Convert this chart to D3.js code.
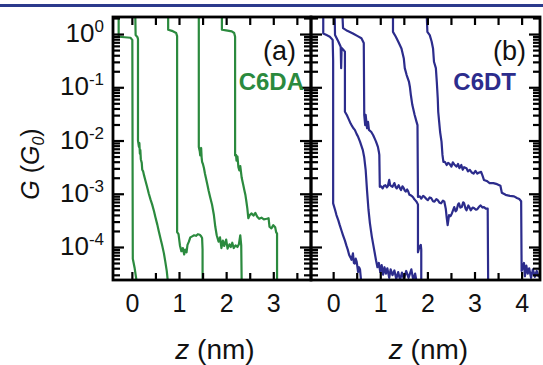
<!DOCTYPE html>
<html><head><meta charset="utf-8">
<script src="https://cdn.jsdelivr.net/npm/d3@7"></script>
<style>html,body{margin:0;padding:0;background:#fff;} svg{display:block;}</style>
</head><body>
<svg id="chart" width="543" height="365"></svg>
<script>
// ---------- data ----------
const panelLabels = ["(a)", "(b)"];
const seriesNames = ["C6DA", "C6DT"];
const xTicksA = [0, 1, 2, 3];
const xTicksB = [0, 1, 2, 3, 4];
const xMinorA = [0.5, 1.5, 2.5, 3.5];
const xMinorB = [0.5, 1.5, 2.5, 3.5];
const yTickExponents = [0, -1, -2, -3, -4];
// traces: [z (nm), log10(G/G0)]
const c6da1 = [[-0.28,0.5],[-0.28,-0.05],[-0.15,-0.06],[-0.03,-0.07],[0.01,-0.11],[0.02,-4.22],[0.06,-4.40],[0.11,-4.70]];
const c6da2 = [[0.07,0.5],[0.08,-0.02],[0.12,-0.06],[0.13,-0.10],[0.13,-2.00],[0.15,-2.12],[0.16,-2.05],[0.17,-2.25],[0.18,-2.18],[0.19,-2.35],[0.21,-2.42],[0.22,-2.55],[0.24,-2.58],[0.26,-2.66],[0.29,-2.76],[0.32,-2.86],[0.36,-3.00],[0.40,-3.12],[0.43,-3.20],[0.47,-3.33],[0.50,-3.44],[0.54,-3.58],[0.57,-3.70],[0.61,-3.85],[0.64,-3.96],[0.68,-4.12],[0.71,-4.28],[0.74,-4.45],[0.77,-4.70]];
const c6da3 = [[0.77,0.5],[0.77,0.08],[0.85,0.06],[0.94,0.02],[0.96,-0.04],[0.96,-3.72],[0.99,-3.76],[1.02,-3.97],[1.05,-4.08],[1.08,-4.02],[1.11,-4.14],[1.13,-4.05],[1.16,-4.10],[1.18,-3.96],[1.21,-3.90],[1.24,-3.82],[1.28,-3.80],[1.32,-3.78],[1.36,-3.79],[1.40,-3.76],[1.44,-3.77],[1.47,-3.80],[1.49,-3.83],[1.50,-4.05],[1.50,-4.70]];
const c6da4 = [[1.42,0.5],[1.42,-2.12],[1.44,-2.20],[1.45,-2.28],[1.47,-2.14],[1.48,-2.32],[1.49,-2.40],[1.51,-2.45],[1.53,-2.52],[1.55,-2.62],[1.57,-2.70],[1.60,-2.82],[1.63,-2.95],[1.66,-3.06],[1.70,-3.20],[1.72,-3.30],[1.74,-3.40],[1.77,-3.62],[1.80,-3.78],[1.84,-3.90],[1.87,-3.82],[1.90,-4.02],[1.93,-3.88],[1.96,-3.98],[2.00,-3.86],[2.03,-4.03],[2.07,-3.95],[2.10,-4.00],[2.13,-3.92],[2.16,-4.02],[2.20,-3.97],[2.24,-4.00],[2.27,-3.95],[2.30,-3.78],[2.32,-3.97],[2.33,-4.70]];
const c6da5 = [[1.91,0.5],[1.91,0.08],[2.00,0.07],[2.12,0.05],[2.17,0.02],[2.19,-0.05],[2.19,-2.28],[2.21,-2.27],[2.22,-2.38],[2.24,-2.30],[2.26,-2.50],[2.28,-2.56],[2.30,-2.48],[2.33,-2.70],[2.36,-2.82],[2.39,-2.95],[2.41,-3.03],[2.43,-3.15],[2.45,-3.28],[2.47,-3.46],[2.50,-3.40],[2.54,-3.37],[2.58,-3.41],[2.62,-3.36],[2.66,-3.43],[2.70,-3.47],[2.75,-3.45],[2.80,-3.48],[2.86,-3.47],[2.90,-3.46],[2.92,-3.62],[2.96,-3.65],[3.00,-3.59],[3.04,-3.63],[3.06,-3.72],[3.08,-3.75],[3.08,-4.70]];
const c6dt1 = [[-0.21,0.5],[-0.21,0.01],[-0.14,-0.02],[-0.07,-0.05],[-0.01,-0.11],[0.00,-0.50],[0.00,-3.18],[0.04,-3.30],[0.07,-3.40],[0.11,-3.50],[0.14,-3.59],[0.18,-3.70],[0.21,-3.78],[0.25,-3.88],[0.28,-3.97],[0.31,-4.05],[0.34,-4.15],[0.37,-4.20],[0.39,-4.24],[0.42,-4.12],[0.44,-4.30],[0.46,-4.31],[0.48,-4.22],[0.50,-4.28],[0.53,-4.47],[0.55,-4.38],[0.57,-4.42],[0.60,-4.70]];
const c6dt2 = [[0.03,0.5],[0.04,-0.02],[0.11,-0.14],[0.16,-0.24],[0.17,-0.64],[0.18,-0.26],[0.22,-0.30],[0.25,-0.33],[0.25,-1.46],[0.29,-1.52],[0.32,-1.58],[0.36,-1.66],[0.39,-1.71],[0.43,-1.77],[0.46,-1.80],[0.50,-1.88],[0.53,-1.93],[0.57,-2.02],[0.60,-2.10],[0.63,-2.18],[0.66,-2.32],[0.69,-2.55],[0.72,-2.95],[0.75,-3.30],[0.78,-3.55],[0.82,-3.80],[0.85,-3.95],[0.88,-4.10],[0.91,-4.25],[0.94,-4.38],[0.97,-4.30],[1.00,-4.47],[1.03,-4.34],[1.06,-4.52],[1.09,-4.38],[1.12,-4.50],[1.15,-4.40],[1.19,-4.58],[1.22,-4.42],[1.26,-4.53],[1.30,-4.44],[1.34,-4.60],[1.38,-4.47],[1.42,-4.62],[1.46,-4.48],[1.50,-4.60],[1.55,-4.45],[1.60,-4.58],[1.66,-4.42],[1.70,-4.62],[1.74,-4.50],[1.78,-4.70]];
const c6dt3 = [[0.19,0.5],[0.21,0.11],[0.30,0.06],[0.42,0.01],[0.52,-0.04],[0.60,-0.08],[0.65,-0.17],[0.66,-1.52],[0.68,-1.71],[0.69,-1.52],[0.72,-1.77],[0.74,-1.65],[0.76,-1.80],[0.81,-1.84],[0.85,-1.90],[0.88,-1.96],[0.91,-2.02],[0.95,-2.12],[0.97,-2.21],[0.98,-2.27],[0.99,-2.87],[1.02,-2.86],[1.05,-2.90],[1.08,-2.85],[1.11,-2.84],[1.14,-2.88],[1.16,-2.86],[1.19,-2.74],[1.21,-2.84],[1.24,-2.86],[1.26,-2.87],[1.30,-2.80],[1.33,-2.88],[1.35,-2.90],[1.39,-2.84],[1.42,-2.90],[1.44,-2.93],[1.47,-2.86],[1.49,-2.88],[1.52,-2.94],[1.54,-2.96],[1.57,-2.92],[1.59,-2.95],[1.62,-3.02],[1.65,-3.03],[1.68,-3.05],[1.70,-3.07],[1.72,-3.10],[1.74,-3.12],[1.77,-3.15],[1.80,-3.20],[1.80,-4.10],[1.83,-4.00],[1.86,-3.96],[1.87,-4.05],[1.87,-4.70]];
const c6dt4 = [[1.27,0.5],[1.27,0.04],[1.33,-0.05],[1.38,-0.14],[1.45,-0.27],[1.50,-0.46],[1.52,-0.64],[1.56,-0.77],[1.61,-0.90],[1.63,-1.00],[1.65,-1.15],[1.68,-1.33],[1.73,-1.52],[1.77,-1.65],[1.79,-1.71],[1.80,-3.06],[1.84,-3.05],[1.87,-3.09],[1.91,-3.04],[1.94,-3.06],[1.98,-3.10],[2.01,-3.12],[2.05,-3.07],[2.08,-3.08],[2.12,-3.14],[2.15,-3.15],[2.19,-3.10],[2.22,-3.12],[2.26,-3.17],[2.29,-3.18],[2.33,-3.13],[2.36,-3.15],[2.39,-3.28],[2.41,-3.45],[2.43,-3.59],[2.46,-3.40],[2.49,-3.42],[2.52,-3.37],[2.55,-3.30],[2.57,-3.25],[2.60,-3.33],[2.62,-3.31],[2.65,-3.20],[2.67,-3.18],[2.70,-3.26],[2.73,-3.25],[2.76,-3.16],[2.78,-3.18],[2.81,-3.28],[2.83,-3.31],[2.87,-3.22],[2.90,-3.27],[2.92,-3.31],[2.96,-3.26],[2.99,-3.27],[3.03,-3.30],[3.06,-3.29],[3.10,-3.24],[3.13,-3.22],[3.17,-3.26],[3.20,-3.25],[3.24,-3.28],[3.28,-3.28],[3.29,-4.70]];
const c6dt5 = [[1.98,0.5],[2.00,0.04],[2.05,-0.02],[2.09,-0.14],[2.12,-0.27],[2.14,-0.52],[2.18,-0.64],[2.20,-0.90],[2.22,-1.21],[2.23,-1.46],[2.25,-1.65],[2.27,-1.84],[2.30,-2.02],[2.32,-2.27],[2.34,-2.40],[2.37,-2.40],[2.41,-2.46],[2.44,-2.42],[2.47,-2.44],[2.51,-2.49],[2.54,-2.41],[2.57,-2.45],[2.62,-2.49],[2.65,-2.44],[2.68,-2.52],[2.72,-2.46],[2.75,-2.55],[2.78,-2.50],[2.83,-2.52],[2.86,-2.58],[2.90,-2.55],[2.94,-2.60],[2.98,-2.62],[3.02,-2.57],[3.06,-2.62],[3.10,-2.60],[3.14,-2.59],[3.17,-2.66],[3.20,-2.74],[3.26,-2.76],[3.32,-2.80],[3.40,-2.80],[3.48,-2.82],[3.55,-2.85],[3.58,-2.98],[3.66,-3.02],[3.75,-3.04],[3.84,-3.05],[3.90,-3.08],[3.95,-3.10],[3.99,-3.14],[4.00,-4.45],[4.02,-4.40],[4.05,-4.30],[4.07,-4.55],[4.10,-4.35],[4.13,-4.50],[4.16,-4.40],[4.20,-4.58],[4.24,-4.42],[4.28,-4.56],[4.32,-4.45],[4.36,-4.55],[4.40,-4.50]];
const c6daTraces = [c6da1, c6da2, c6da3, c6da4, c6da5];
const c6dtTraces = [c6dt1, c6dt2, c6dt3, c6dt4, c6dt5];

// ---------- layout ----------
const svg = d3.select("#chart");
const FONT = "'Liberation Sans', Arial, Helvetica, sans-serif";
const GREEN = "#2b8a3e", NAVY = "#2c2c8c";
const plotTop = 17, plotBottom = 280;

const y = d3.scaleLog().domain([Math.pow(10, -4.62), Math.pow(10, 0.32)]).range([plotBottom, plotTop]);
const panels = [
  { x: d3.scaleLinear().domain([-0.40, 3.80]).range([113, 311]), traces: c6daTraces, color: GREEN,
    ticks: xTicksA, minor: xMinorA, label: panelLabels[0], name: seriesNames[0], labelX: 296, nameX: 304 },
  { x: d3.scaleLinear().domain([-0.47, 4.39]).range([311, 540]), traces: c6dtTraces, color: NAVY,
    ticks: xTicksB, minor: xMinorB, label: panelLabels[1], name: seriesNames[1], labelX: 526, nameX: 516 }
];

// header bar
svg.append("rect").attr("x", 0).attr("y", 4).attr("width", 543).attr("height", 3).attr("fill", "#2b3a8c");

// minor log ticks
const minorY = [];
for (let d = -5; d <= 0; d++) for (let m = 2; m <= 9; m++) {
  const v = m * Math.pow(10, d);
  if (v >= y.domain()[0] && v <= y.domain()[1]) minorY.push(v);
}
const majorY = yTickExponents.map(e => Math.pow(10, e));

panels.forEach((p, i) => {
  const [x0, x1] = p.x.range();
  const clipId = "clip" + i;
  svg.append("clipPath").attr("id", clipId).append("rect")
    .attr("x", x0).attr("y", plotTop).attr("width", x1 - x0).attr("height", plotBottom - plotTop);

  const line = d3.line().x(d => p.x(d[0])).y(d => y(Math.pow(10, d[1])));
  svg.append("g").attr("clip-path", `url(#${clipId})`)
    .selectAll("path").data(p.traces).join("path")
    .attr("d", line).attr("fill", "none").attr("stroke", p.color)
    .attr("stroke-width", 2.2).attr("stroke-linejoin", "round");

  const tickStyle = g => { g.select(".domain").remove(); g.selectAll("line").attr("stroke", "#000").attr("stroke-width", 2.2); };

  // x ticks bottom & top
  svg.append("g").attr("transform", `translate(0,${plotBottom})`)
    .call(d3.axisBottom(p.x).tickValues(p.ticks).tickSize(-8).tickPadding(14).tickFormat(d3.format("d")))
    .call(tickStyle)
    .call(g => g.selectAll("text").attr("font-family", FONT).attr("font-size", 25).attr("fill", "#111"));
  svg.append("g").attr("transform", `translate(0,${plotBottom})`)
    .call(d3.axisBottom(p.x).tickValues(p.minor).tickSize(-7).tickFormat("")).call(tickStyle);
  svg.append("g").attr("transform", `translate(0,${plotTop})`)
    .call(d3.axisTop(p.x).tickValues(p.ticks.concat(p.minor)).tickSize(-8).tickFormat("")).call(tickStyle);

  // y ticks left & right (inward)
  svg.append("g").attr("transform", `translate(${x0},0)`)
    .call(d3.axisLeft(y).tickValues(majorY).tickSize(-11).tickFormat("")).call(tickStyle);
  svg.append("g").attr("transform", `translate(${x0},0)`)
    .call(d3.axisLeft(y).tickValues(minorY).tickSize(-7).tickFormat("")).call(tickStyle);
  svg.append("g").attr("transform", `translate(${x1},0)`)
    .call(d3.axisRight(y).tickValues(majorY).tickSize(-11).tickFormat("")).call(tickStyle);
  svg.append("g").attr("transform", `translate(${x1},0)`)
    .call(d3.axisRight(y).tickValues(minorY).tickSize(-7).tickFormat("")).call(tickStyle);

  // frame
  svg.append("rect").attr("x", x0).attr("y", plotTop).attr("width", x1 - x0).attr("height", plotBottom - plotTop)
    .attr("fill", "none").attr("stroke", "#000").attr("stroke-width", 2.8);

  // panel label and series name
  svg.append("text").attr("x", p.labelX).attr("y", 60).attr("text-anchor", "end")
    .attr("font-family", FONT).attr("font-size", 27).attr("fill", "#111").text(p.label);
  svg.append("text").attr("x", p.nameX).attr("y", 90).attr("text-anchor", "end")
    .attr("font-family", FONT).attr("font-weight", "bold").attr("font-size", 24).attr("fill", p.color).text(p.name);

  // x axis title
  const t = svg.append("text").attr("x", (x0 + x1) / 2 + 3).attr("y", 359).attr("text-anchor", "middle")
    .attr("font-family", FONT).attr("font-size", 28).attr("fill", "#111");
  t.append("tspan").attr("font-style", "italic").text("z");
  t.append("tspan").text(" (nm)");
});

// y tick labels
yTickExponents.forEach(e => {
  const t = svg.append("text").attr("x", 104).attr("y", y(Math.pow(10, e)) + 8).attr("text-anchor", "end")
    .attr("font-family", FONT).attr("font-size", 26).attr("fill", "#111");
  t.append("tspan").text("10");
  t.append("tspan").attr("font-size", 17).attr("dy", -10).text(e === 0 ? "0" : "-" + Math.abs(e));
});

// y axis title
const yt = svg.append("text").attr("transform", "translate(39,164) rotate(-90)").attr("text-anchor", "middle")
  .attr("font-family", FONT).attr("font-size", 25).attr("fill", "#111");
yt.append("tspan").attr("font-style", "italic").text("G");
yt.append("tspan").text(" (");
yt.append("tspan").attr("font-style", "italic").text("G");
yt.append("tspan").attr("font-style", "italic").attr("font-size", 16).attr("dy", 5).text("0");
yt.append("tspan").attr("dy", -5).text(")");
</script>
</body></html>
